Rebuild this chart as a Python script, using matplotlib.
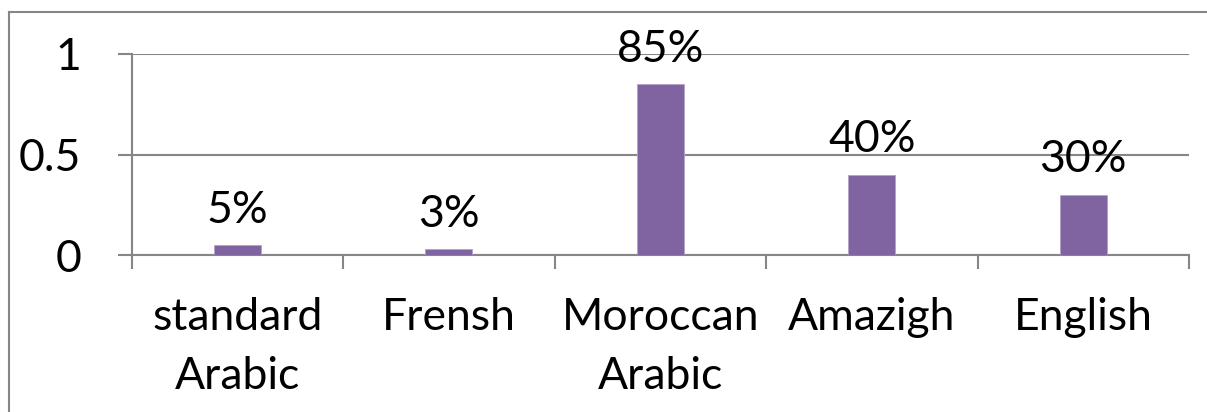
import matplotlib
matplotlib.use('Agg')
import matplotlib.pyplot as plt
from matplotlib.lines import Line2D
import numpy as np

categories = ['standard\nArabic', 'Frensh', 'Moroccan\nArabic', 'Amazigh', 'English']
values = [0.05, 0.03, 0.85, 0.40, 0.30]
labels = ['5%', '3%', '85%', '40%', '30%']
yticks = [0, 0.5, 1]
ytick_labels = ['0', '0.5', '1']

W, H = 1207, 412
FS = 32
plt.rcParams['font.family'] = ['Lato', 'DejaVu Sans']
fig = plt.figure(figsize=(W / 100, H / 100), dpi=100)

# chart frame (only left and top visible in the crop)
fig.add_artist(Line2D([9 / W, 9 / W], [0, 1 - 12 / H], color='#868686', lw=1.5))
fig.add_artist(Line2D([9 / W, 1], [1 - 12 / H, 1 - 12 / H], color='#868686', lw=1.5))

ax = fig.add_axes([131.5 / W, (H - 255) / H, (1189 - 131.5) / W, (255 - 54) / H])
x = np.arange(len(categories))
ax.bar(x, values, width=0.22, color='#8064A2', edgecolor='#B3A2C7', linewidth=0.6, zorder=3)

for xi, v, lab in zip(x, values, labels):
    ax.annotate(lab, (xi, v), xytext=(0, 16), textcoords='offset points',
                ha='center', va='baseline', fontsize=FS, color='black',
                annotation_clip=False, zorder=4)

ax.set_xlim(-0.5, len(categories) - 0.5)
ax.set_ylim(0, 1)
ax.set_yticks(yticks)
ax.set_yticklabels(ytick_labels, fontsize=FS)
ax.yaxis.grid(True, color='#868686', lw=1.5, zorder=0)

ax.set_xticks(x)
ax.set_xticklabels(categories, fontsize=FS, linespacing=1.55)
ax.set_xticks(np.arange(len(categories) + 1) - 0.5, minor=True)
ax.tick_params(axis='x', which='major', length=0, pad=30)
ax.tick_params(axis='x', which='minor', length=10, width=1.5, color='#868686', direction='out')
ax.tick_params(axis='y', length=10, width=1.5, color='#868686', pad=26)

for s in ['top', 'right']:
    ax.spines[s].set_visible(False)
for s in ['left', 'bottom']:
    ax.spines[s].set_color('#868686')
    ax.spines[s].set_linewidth(1.5)

fig.savefig('out.png', dpi=100)
